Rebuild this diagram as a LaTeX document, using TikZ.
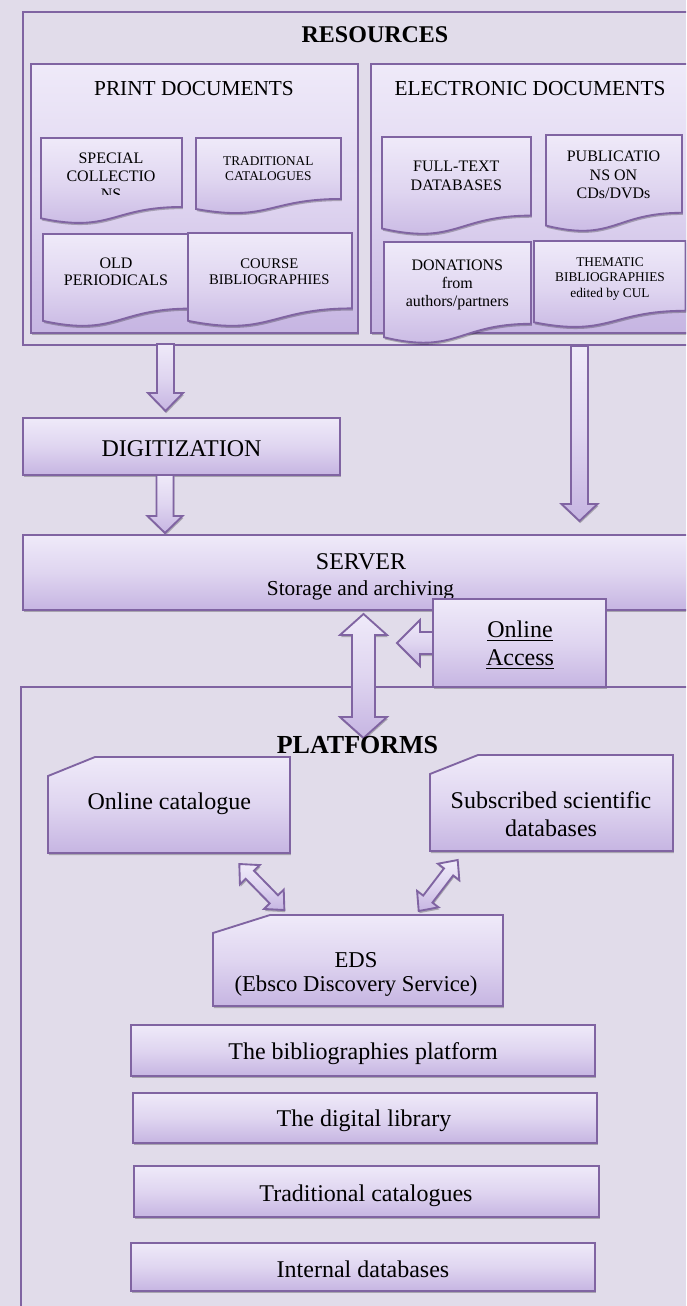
\documentclass[tikz,border=0pt]{standalone}
\usepackage{fontspec}
\setmainfont{Liberation Serif}
\usetikzlibrary{shadows}
\definecolor{bgc}{HTML}{E1DCEA}
\definecolor{pbd}{HTML}{8064A2}
\definecolor{ptop}{HTML}{EFEAF9}
\definecolor{pmid}{HTML}{DFD5F0}
\definecolor{pbot}{HTML}{C6B5E2}
\newcommand\fsz[2]{\fontsize{#1}{#2}\selectfont}
\newcommand\docshape[4]{\draw[shp] (#1,#3) -- (#2,#3) -- (#2,{#3+0.802*#4}) .. controls ({(#1+#2)/2},{#3+0.802*#4}) and ({(#1+#2)/2},{#3+1.1075*#4}) .. (#1,{#3+0.934*#4}) -- cycle;}
\newcommand\snipshape[6]{\draw[shp] ({#1+#5},#3) -- (#2,#3) -- (#2,#4) -- (#1,#4) -- (#1,{#3+#6}) -- cycle;}
\newcommand\downarr[6]{\draw[shp] ({#1-#4},#2) -- ({#1-#4},{#3-#6}) -- ({#1-#5},{#3-#6}) -- (#1,#3) -- ({#1+#5},{#3-#6}) -- ({#1+#4},{#3-#6}) -- ({#1+#4},#2) -- cycle;}
\newcommand\dblarr[7]{\begin{scope}[shift={(#1,#2)}, rotate=#3]
\draw[shp] (0,0) -- (#7,#6) -- (#7,#5) -- ({#4-#7},#5) -- ({#4-#7},#6) -- (#4,0) -- ({#4-#7},-#6) -- ({#4-#7},-#5) -- (#7,-#5) -- (#7,-#6) -- cycle;
\end{scope}}
\tikzset{
  shp/.style={draw=pbd, line width=1.4pt, top color=ptop, bottom color=pbot, middle color=pmid,
    drop shadow={shadow xshift=0.6pt, shadow yshift=-1.6pt, opacity=0.25, fill=black}},
  frm/.style={draw=pbd, line width=1.3pt},
  lbl/.style={align=center, inner sep=0pt, text=black},
}
\begin{document}
\begin{tikzpicture}[x=0.75pt, y=-0.75pt]
\useasboundingbox (0,0) rectangle (686,1306);
\fill[bgc] (0,0) rectangle (686,1306);
\clip (0,0) rectangle (686,1306);

% ---------- RESOURCES ----------
\draw[frm] (23,12) rectangle (720,345);
\node[lbl, anchor=base, font=\fsz{18}{20}\bfseries] (resources) at (375,42.5) {RESOURCES};

\draw[shp] (31,64) rectangle (358,333);
\node[lbl, anchor=base, font=\fsz{16}{18}] (printdocs) at (194,95.5) {PRINT DOCUMENTS};
\draw[shp] (371,64) rectangle (720,333);
\node[lbl, anchor=base, font=\fsz{16}{18}] (elecdocs) at (530,95.5) {ELECTRONIC DOCUMENTS};

% print documents
\docshape{41}{182}{138}{86}
\begin{scope}
\clip (41,138) rectangle (182,194);
\node[lbl, font=\fsz{12}{13.3}] (special) at (111,176.5) {SPECIAL\\COLLECTIO\\NS};
\end{scope}
\docshape{196}{341}{138}{76}
\node[lbl, font=\fsz{10}{11.25}] (tradcat) at (268.3,168.5) {TRADITIONAL\\CATALOGUES};
\docshape{43}{190}{234}{93}
\node[lbl, font=\fsz{12}{13}] (oldper) at (116,272) {OLD\\PERIODICALS};
\docshape{188}{352}{233}{94}
\node[lbl, font=\fsz{11}{12}] (course) at (269.3,271.3) {COURSE\\BIBLIOGRAPHIES};

% electronic documents
\docshape{382}{531}{137}{98}
\node[lbl, font=\fsz{12}{14.25}] (fulltext) at (456.3,176.2) {FULL-TEXT\\DATABASES};
\docshape{546}{682}{135}{97}
\node[lbl, font=\fsz{12}{14.1}] (public) at (613.5,175) {PUBLICATIO\\NS ON\\CDs/DVDs};
\docshape{384}{531}{242}{102}
\node[lbl, font=\fsz{12}{13.75}] (donations) at (457.3,285) {DONATIONS\\from\\authors/partners};
\docshape{534}{685.5}{241}{87}
\node[lbl, font=\fsz{10}{11.6}] (thematic) at (610,278.7) {THEMATIC\\BIBLIOGRAPHIES\\edited by CUL};

% ---------- flow to server ----------
\downarr{165.5}{344}{411}{8.5}{17.5}{18}
\downarr{579.5}{346}{521}{8.5}{18}{17}

\draw[shp] (23,418) rectangle (340,475);
\node[lbl, anchor=base, font=\fsz{18}{20}] (digit) at (181.5,456.7) {DIGITIZATION};
\downarr{165}{475}{533}{8.5}{17.5}{17}

\draw[shp] (23,535) rectangle (720,610);
\node[lbl, anchor=base, font=\fsz{18}{20}] (server) at (361,569.3) {SERVER};
\node[lbl, anchor=base, font=\fsz{16}{18}] (storage) at (360.5,595) {Storage and archiving};

% ---------- PLATFORMS frame ----------
\draw[frm] (21,687) rectangle (720,1330);

% online access
\draw[shp] (436,632) -- (420,632) -- (420,620) -- (397,643) -- (420,666) -- (420,654) -- (436,654) -- cycle;
\draw[shp] (433,599) rectangle (606,687);
\node[lbl, font=\fsz{18}{21}] (access) at (520,645) {\underline{Online}\\\underline{Access}};

% server <-> platforms
\draw[shp] (363.5,614) -- (387,635) -- (375,635) -- (375,717) -- (387,717) -- (363.5,738)
  -- (340,717) -- (352,717) -- (352,635) -- (340,635) -- cycle;

\node[lbl, anchor=base, font=\fsz{19.5}{21}\bfseries] (platforms) at (357.5,753) {PLATFORMS};

\snipshape{48}{290}{757}{853}{47}{19}
\node[lbl, anchor=base, font=\fsz{18}{20}] (onlinecat) at (169.3,809.7) {Online catalogue};
\snipshape{430}{673}{755}{851}{48}{19}
\node[lbl, font=\fsz{18}{21}] (subscribed) at (551,814) {Subscribed scientific\\databases};

\dblarr{239.3}{864}{-45.6}{64.4}{5.8}{13.8}{15}
\dblarr{418.7}{911}{52.6}{64.2}{5.8}{13.5}{15}

\snipshape{213}{503}{915}{1006}{57}{18}
\node[lbl, font=\fsz{17}{18}] (eds) at (356,974.5) {EDS\\(Ebsco Discovery Service)};

\draw[shp] (131,1025) rectangle (595,1076);
\node[lbl, anchor=base, font=\fsz{18}{20}] (biblio) at (363,1059.7) {The bibliographies platform};
\draw[shp] (133,1093) rectangle (597,1143);
\node[lbl, anchor=base, font=\fsz{18}{20}] (diglib) at (364,1126.3) {The digital library};
\draw[shp] (134,1166) rectangle (599,1217);
\node[lbl, anchor=base, font=\fsz{18}{20}] (tradcat2) at (366,1201.3) {Traditional catalogues};
\draw[shp] (131,1243) rectangle (595,1291);
\node[lbl, anchor=base, font=\fsz{18}{20}] (internal) at (363,1277.3) {Internal databases};
\end{tikzpicture}
\end{document}
